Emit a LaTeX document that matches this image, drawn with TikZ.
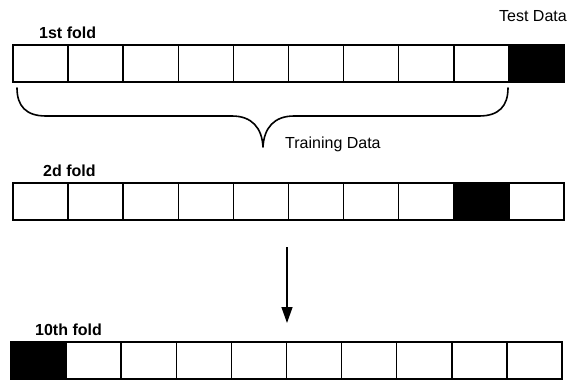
\documentclass[tikz,border=0pt]{standalone}
\usepackage{fontspec}
\setmainfont{Liberation Sans}
\usetikzlibrary{arrows.meta}
\begin{document}
\begin{tikzpicture}[x=1pt,y=-1pt,
  cell/.style={draw=black, line width=1.5pt, minimum width=55.1pt, minimum height=37pt,
    inner sep=0pt, outer sep=0pt, anchor=north west},
  testcell/.style={cell, fill=black},
  foldlabel/.style={font=\fontsize{16}{16}\selectfont\bfseries, anchor=base west, inner sep=0pt},
  plainlabel/.style={font=\fontsize{16}{16}\selectfont, inner sep=0pt},
  brace/.style={line width=1.6pt, line cap=round, line join=round},
  flow/.style={line width=1.3pt, -{Triangle[width=11pt,length=16pt]}}]
\useasboundingbox (0,0) rectangle (568,381);
\fill[white] (0,0) rectangle (568,381);

% fold 1: the last cell is the test part
\foreach \i in {1,...,10} {
  \pgfmathsetmacro{\xx}{13+(\i-1)*55.1}
  \ifnum\i=10
    \node[testcell] (a\i) at (\xx,45) {};
  \else
    \node[cell] (a\i) at (\xx,45) {};
  \fi
}
% fold 2: the ninth cell is the test part
\foreach \i in {1,...,10} {
  \pgfmathsetmacro{\xx}{13+(\i-1)*55.1}
  \ifnum\i=9
    \node[testcell] (b\i) at (\xx,183) {};
  \else
    \node[cell] (b\i) at (\xx,183) {};
  \fi
}
% fold 10: the first cell is the test part
\foreach \i in {1,...,10} {
  \pgfmathsetmacro{\xx}{11+(\i-1)*55.1}
  \ifnum\i=1
    \node[testcell] (c\i) at (\xx,342) {};
  \else
    \node[cell] (c\i) at (\xx,342) {};
  \fi
}

\node[foldlabel] (l1) at (39,38) {1st fold};
\node[foldlabel] (l2) at (43,176) {2d fold};
\node[foldlabel] (l3) at (35,335) {10th fold};

\node[plainlabel, anchor=base east] (test) at (567,21) {Test Data};
\node[plainlabel, anchor=base west] (train) at (285,148) {Training Data};

% brace under the training cells of fold 1
\draw[brace] (17,88) .. controls (17,106) and (26,116) .. (46,116)
  -- (232,116) .. controls (252,116) and (262,128) .. (263,147)
  .. controls (264,128) and (274,116) .. (294,116)
  -- (479,116) .. controls (499,116) and (508,106) .. (508,88);

% arrow towards the last fold
\coordinate (arrtop) at (287,247);
\coordinate (arrtip) at (287,323);
\draw[flow] (arrtop) -- (arrtip);
\end{tikzpicture}
\end{document}
